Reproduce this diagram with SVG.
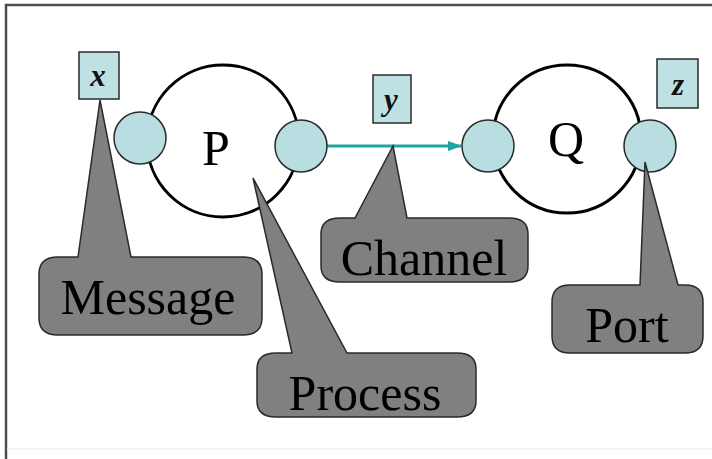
<svg xmlns="http://www.w3.org/2000/svg" width="712" height="459" viewBox="0 0 712 459">
<defs>
<style>
.proc{fill:#fff;stroke:#000;stroke-width:3}
.port{fill:#b9dee1;stroke:#2a2a2a;stroke-width:1.5}
.box{fill:#bfe1e4;stroke:#2a2a2a;stroke-width:1.5}
.call{fill:#808080;stroke:#2a2a2a;stroke-width:1.5}
.big{font-family:"Liberation Serif","Times New Roman",serif;font-size:50px;fill:#000;text-anchor:middle}
.var{font-family:"Liberation Serif","Times New Roman",serif;font-size:31px;font-style:italic;font-weight:bold;fill:#111;text-anchor:middle}
.chan{stroke:#1fa3a3;stroke-width:3;fill:none}
</style>
<marker id="ah" markerWidth="14" markerHeight="10" refX="13" refY="5" orient="auto" markerUnits="userSpaceOnUse">
<path d="M0,0 L14,5 L0,10 Z" fill="#1fa3a3"/>
</marker>
</defs>
<rect width="712" height="459" fill="#fff"/>
<g id="frame">
<path d="M6,459 L6,5 L712,5" fill="none" stroke="#4d4d4d" stroke-width="2.5"/>
<path d="M7,449 L712,449" fill="none" stroke="#f0f0f0" stroke-width="1.5"/>
</g>
<g id="connectors">
<line class="chan" x1="327" y1="146" x2="461" y2="146" marker-end="url(#ah)"/>
</g>
<g id="processP">
<circle class="proc" cx="223" cy="141" r="76"/>
<text class="big" x="216" y="165">P</text>
</g>
<g id="processQ">
<circle class="proc" cx="567" cy="139" r="74"/>
<text class="big" x="566" y="156">Q</text>
</g>
<g id="portP1"><circle class="port" cx="140" cy="138" r="26"/></g>
<g id="portP2"><circle class="port" cx="301" cy="146" r="26"/></g>
<g id="portQ1"><circle class="port" cx="488" cy="146" r="26"/></g>
<g id="portQ2"><circle class="port" cx="650" cy="146" r="26"/></g>
<g id="msgX">
<rect class="box" x="79" y="52" width="40" height="47"/>
<text class="var" x="98" y="86">x</text>
</g>
<g id="msgY">
<rect class="box" x="373" y="75" width="38" height="48"/>
<text class="var" x="391" y="110">y</text>
</g>
<g id="msgZ">
<rect class="box" x="657" y="59" width="41" height="49"/>
<text class="var" x="678" y="95">z</text>
</g>
<g id="calloutMessage">
<path class="call" d="M58,257 L78,257 L100,100 L131,257 L243,257 Q262,257 262,274 L262,318 Q262,335 243,335 L58,335 Q39,335 39,318 L39,274 Q39,257 58,257 Z"/>
<text class="big" x="148" y="314">Message</text>
</g>
<g id="calloutProcess">
<path class="call" d="M276,353 L292,353 L253,178 L347,353 L457,353 Q476,353 476,369 L476,401 Q476,417 457,417 L276,417 Q257,417 257,401 L257,369 Q257,353 276,353 Z"/>
<text class="big" x="365" y="410">Process</text>
</g>
<g id="calloutChannel">
<path class="call" d="M340,218 L355,218 L393,146 L407,218 L509,218 Q528,218 528,234 L528,266 Q528,282 509,282 L340,282 Q321,282 321,266 L321,234 Q321,218 340,218 Z"/>
<text class="big" x="424" y="275">Channel</text>
</g>
<g id="calloutPort">
<path class="call" d="M570,285 L640,285 L645,162 L678,285 L685,285 Q703,285 703,302 L703,336 Q703,353 685,353 L570,353 Q552,353 552,336 L552,302 Q552,285 570,285 Z"/>
<text class="big" x="627" y="342">Port</text>
</g>
</svg>
